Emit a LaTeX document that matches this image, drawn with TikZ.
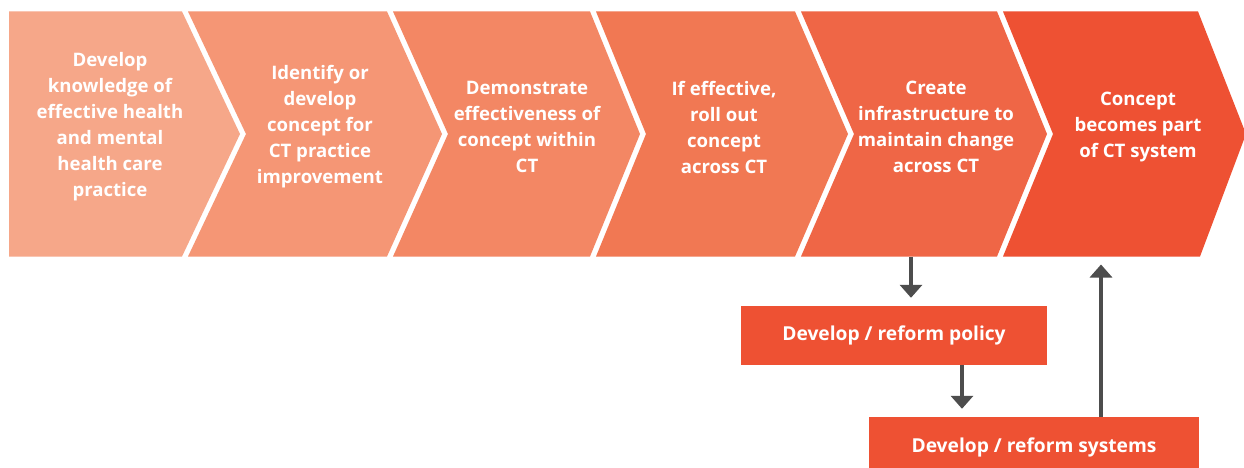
\documentclass[tikz,border=0pt]{standalone}
\usepackage{fontspec}
\setmainfont{Open Sans}
\usetikzlibrary{arrows.meta}
\definecolor{cA}{HTML}{F6A789}
\definecolor{cB}{HTML}{F59675}
\definecolor{cC}{HTML}{F38764}
\definecolor{cD}{HTML}{F17853}
\definecolor{cE}{HTML}{EF6646}
\definecolor{cF}{HTML}{EE5133}
\definecolor{arrgray}{HTML}{4D4D4D}
\tikzset{
  steptext/.style={text=white, align=center, font=\fontsize{18.6}{26}\selectfont\bfseries, inner sep=0pt},
  boxnode/.style={fill=cF, text=white, font=\fontsize{19.2}{24}\selectfont\bfseries, inner sep=0pt},
  arr/.style={draw=arrgray, line width=4.5pt, -{Triangle[width=22pt,length=13pt]}, shorten >=8pt}
}
\begin{document}
\begin{tikzpicture}[x=1pt,y=-1pt]
\clip (0,0) rectangle (1244,468);
\fill[white] (0,0) rectangle (1244,468);
% chevrons: top y=11.5, bottom y=256.5, tip y=134
\fill[cA] (9,11.5) -- (182,11.5) -- (240,134) -- (182,256.5) -- (9,256.5) -- cycle;
\fill[cB] (188,11.5) -- (387,11.5) -- (442,134) -- (387,256.5) -- (188,256.5) -- (246,134) -- cycle;
\fill[cC] (393,11.5) -- (590,11.5) -- (640,134) -- (590,256.5) -- (393,256.5) -- (448,134) -- cycle;
\fill[cD] (596,11.5) -- (795,11.5) -- (848,134) -- (795,256.5) -- (596,256.5) -- (646,134) -- cycle;
\fill[cE] (801,11.5) -- (997,11.5) -- (1047,134) -- (997,256.5) -- (801,256.5) -- (854,134) -- cycle;
\fill[cF] (1003,11.5) -- (1198,11.5) -- (1246,134) -- (1200,256.5) -- (1003,256.5) -- (1053,134) -- cycle;
% texts
\node[steptext] (c1) at (110,127) {Develop\\knowledge of\\effective health\\and mental\\health care\\practice};
\node[steptext] (c2) at (320,127) {Identify or\\develop\\concept for\\CT practice\\improvement};
\node[steptext] (c3) at (527,127) {Demonstrate\\effectiveness of\\concept within\\CT};
\node[steptext] (c4) at (724,127) {If effective,\\roll out\\concept\\across CT};
\node[steptext] (c5) at (936,127) {Create\\infrastructure to\\maintain change\\across CT};
\node[steptext] (c6) at (1138,127) {Concept\\becomes part\\of CT system};
% lower boxes
\node[boxnode, minimum width=306pt, minimum height=59pt] (b1) at (894,335.5) {Develop / reform policy};
\node[boxnode, minimum width=330pt, minimum height=60pt] (b2) at (1034,447) {Develop / reform systems};
% connector anchors
\coordinate (c5bot) at (911,256.5);
\coordinate (c6bot) at (1101,256.5);
\coordinate (x2) at (962,0);
\draw[arr] (c5bot) -- (b1.north -| c5bot);
\draw[arr] (b1.south -| x2) -- (b2.north -| x2);
\draw[arr] (b2.north -| c6bot) -- (c6bot);
\end{tikzpicture}
\end{document}
